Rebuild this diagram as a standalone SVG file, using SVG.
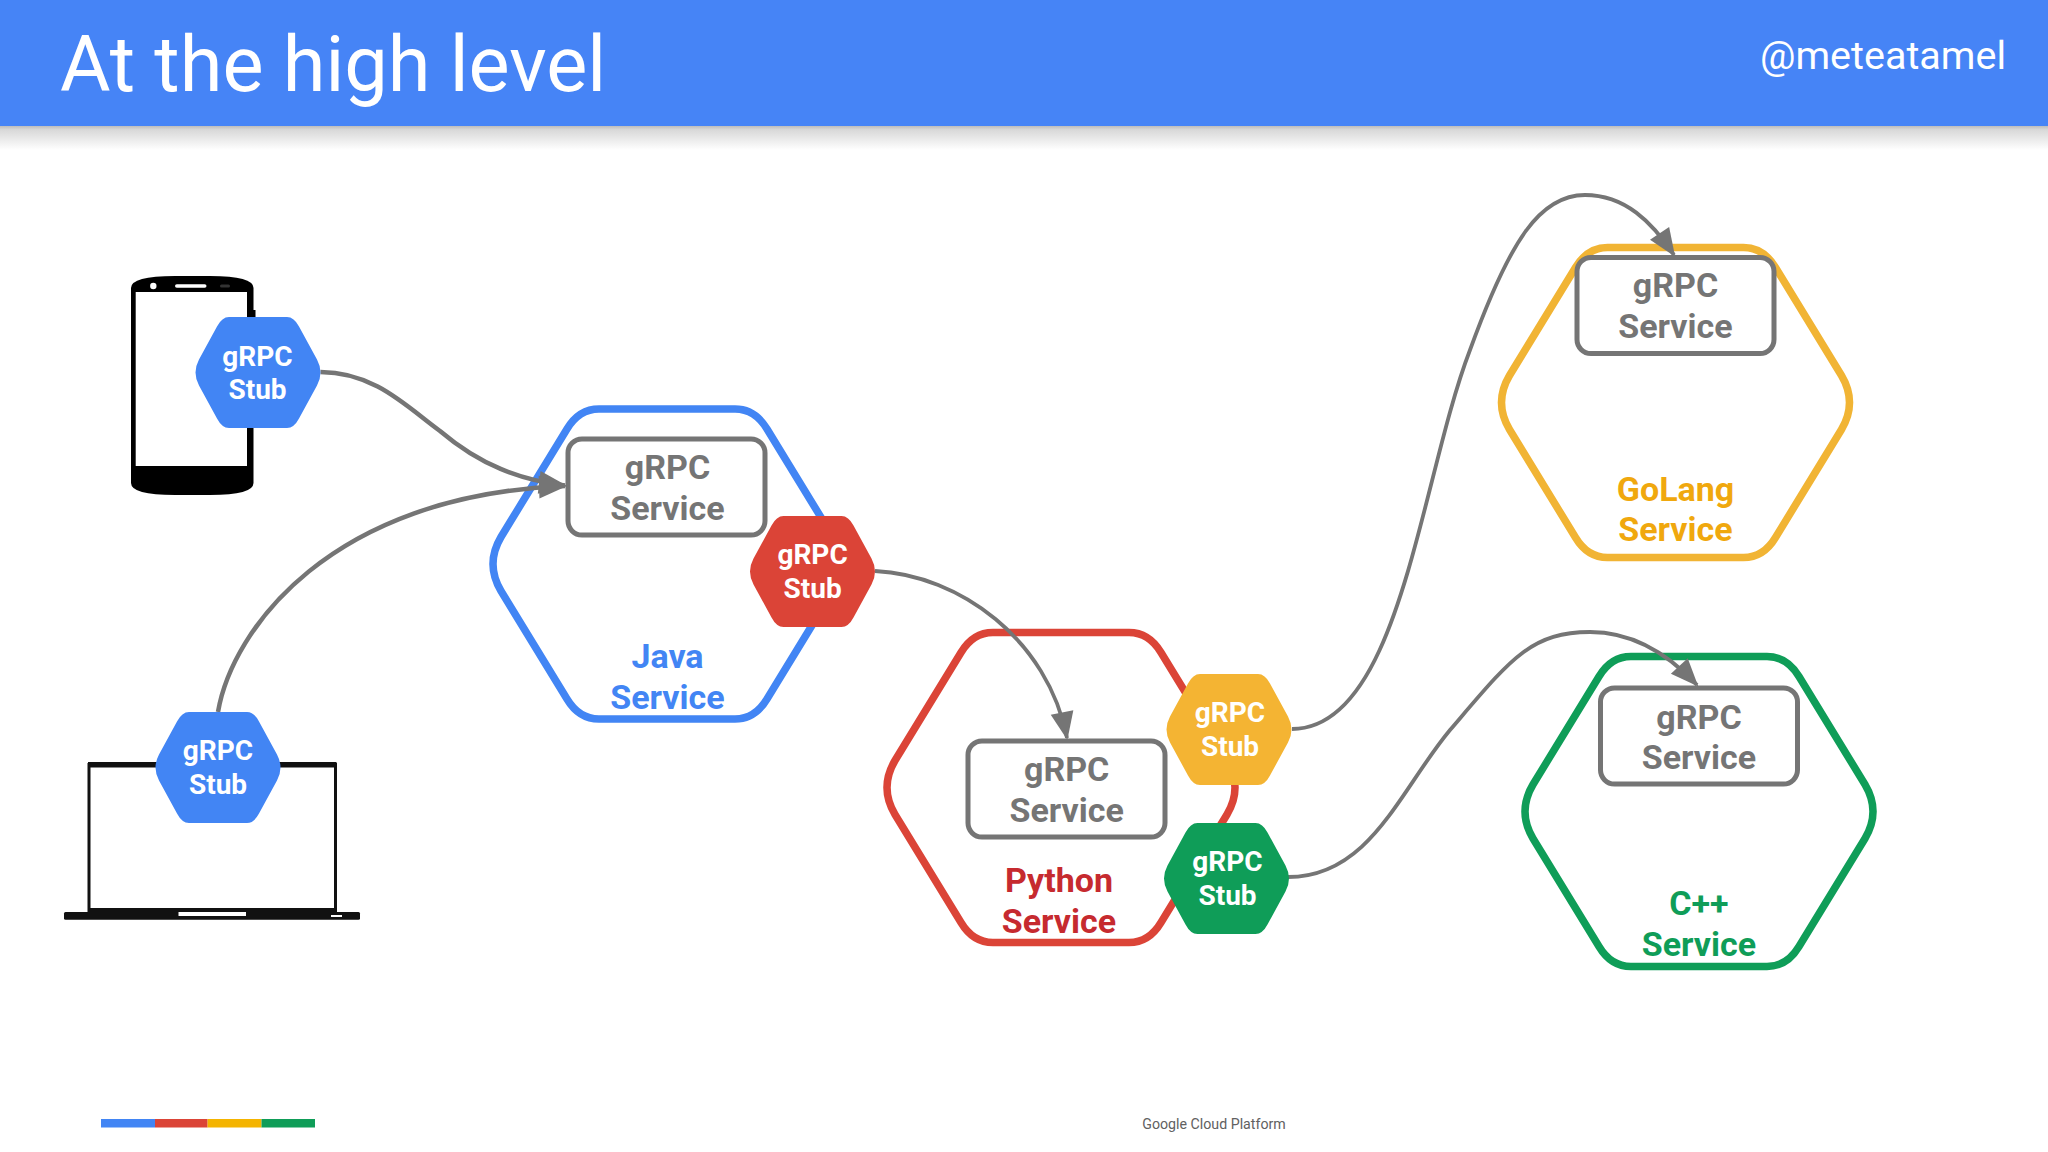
<svg xmlns="http://www.w3.org/2000/svg" width="2048" height="1152" viewBox="0 0 2048 1152">
<style>
text{font-family:Roboto,"Liberation Sans",sans-serif;text-anchor:middle}
.lbl{font-size:34px;font-weight:700}
.stub text{font-size:28px;font-weight:700;fill:#fff}
.gray{fill:#757575}
.box{fill:#fff;stroke:#757575;stroke-width:5}
.svc{fill:#fff;stroke-width:7.500}
.conn{fill:none;stroke:#757575;stroke-width:4.500}
.thin{stroke-width:3.800}
</style>
<defs>
<linearGradient id="shade" x1="0" y1="0" x2="0" y2="1"><stop offset="0" stop-color="#bdbdbd"/><stop offset="0.15" stop-color="#d8d8d8"/><stop offset="1" stop-color="#fff"/></linearGradient>
<path id="svcHex" d="M-68,-155H68Q88,-155 100,-135L166,-27Q182,0 166,27L100,135Q88,155 68,155H-68Q-88,155 -100,135L-166,27Q-182,0 -166,-27L-100,-135Q-88,-155 -68,-155Z"/>
<path id="stubHex" d="M-29,-55.5H29Q36,-55.5 41,-46L59,-13Q66,0 59,13L41,46Q36,55.5 29,55.5H-29Q-36,55.5 -41,46L-59,13Q-66,0 -59,-13L-41,-46Q-36,-55.5 -29,-55.5Z"/>
<marker id="arrow" markerUnits="userSpaceOnUse" markerWidth="34" markerHeight="26" refX="26" refY="11.500" orient="auto" overflow="visible"><path d="M0,0L28,11.500L0,23Z" fill="#757575"/></marker>
</defs>
<rect width="2048" height="1152" fill="#fff"/>
<g id="header">
<rect y="126" width="2048" height="24" fill="url(#shade)"/>
<rect width="2048" height="126" fill="#4684F6"/>
<text x="333" y="91" font-size="77.500" font-weight="400" fill="#fff">At the high level</text>
<text x="1883" y="69" font-size="39.500" font-weight="400" fill="#fff">@meteatamel</text>
</g>
<g id="phone">
<path d="M131,288Q131,276 175,276H210Q253.500,276 253.500,288V483Q253.500,495 210,495H175Q131,495 131,483Z" fill="#000"/>
<rect x="253" y="310" width="2.500" height="10" fill="#000"/>
<rect x="135.700" y="292" width="111.300" height="174" fill="#fff"/>
<circle cx="153.300" cy="286" r="3.200" fill="#fff"/>
<rect x="175" y="284.200" width="31.500" height="3.600" rx="1.800" fill="#fff"/>
<rect x="220" y="284.500" width="10" height="3" rx="1.500" fill="#333"/>
</g>
<g id="laptop">
<rect x="89" y="764.500" width="246.500" height="146" fill="#fff" stroke="#111" stroke-width="3"/>
<rect x="88" y="762" width="248.500" height="5.500" fill="#111"/>
<rect x="88" y="908" width="248.500" height="5" fill="#111"/>
<rect x="64" y="912" width="296" height="7.700" rx="1.500" fill="#111"/>
<rect x="178.500" y="912" width="67.500" height="4" fill="#fff"/>
<rect x="331" y="915" width="11" height="2" fill="#fff"/>
</g>
<g id="java-service">
<use href="#svcHex" transform="translate(667,564)" class="svc" stroke="#4285F4"/>
<rect x="568" y="439" width="197" height="96" rx="14" class="box"/>
<text x="667.500" y="478.500" class="lbl gray">gRPC</text><text x="667.500" y="519.500" class="lbl gray">Service</text>
<text x="667.500" y="668" class="lbl" fill="#4285F4">Java</text><text x="667.500" y="709" class="lbl" fill="#4285F4">Service</text>
</g>
<g id="python-service">
<use href="#svcHex" transform="translate(1061,787.500)" class="svc" stroke="#DB4437"/>
<rect x="968" y="741" width="197" height="96" rx="14" class="box"/>
<text x="1066.700" y="781" class="lbl gray">gRPC</text><text x="1066.700" y="821.500" class="lbl gray">Service</text>
<text x="1059" y="892" class="lbl" fill="#C62A2F">Python</text><text x="1059" y="932.500" class="lbl" fill="#C62A2F">Service</text>
</g>
<g id="golang-service">
<use href="#svcHex" transform="translate(1675.500,402.500)" class="svc" stroke="#F1B434"/>
<rect x="1577" y="257.500" width="197" height="96" rx="14" class="box"/>
<text x="1675.500" y="297" class="lbl gray">gRPC</text><text x="1675.500" y="338" class="lbl gray">Service</text>
<text x="1675.500" y="500.600" class="lbl" fill="#F0A80E">GoLang</text><text x="1675.500" y="541" class="lbl" fill="#F0A80E">Service</text>
</g>
<g id="cpp-service">
<use href="#svcHex" transform="translate(1699,811.500)" class="svc" stroke="#0F9D58"/>
<rect x="1600.500" y="688" width="197" height="96" rx="14" class="box"/>
<text x="1699" y="728.500" class="lbl gray">gRPC</text><text x="1699" y="769" class="lbl gray">Service</text>
<text x="1699" y="915" class="lbl" fill="#0F9D58">C++</text><text x="1699" y="956" class="lbl" fill="#0F9D58">Service</text>
</g>
<g id="connectors">
<path class="conn" marker-end="url(#arrow)" d="M320.500,372C375,372 408,408 440,431C480,465 520,480 565,485.500"/>
<path class="conn" marker-end="url(#arrow)" d="M218,712C232,630 330,495 565,486"/>
<path class="conn thin" marker-end="url(#arrow)" d="M875,571C960,575 1048,640 1067,738"/>
<path class="conn thin" marker-end="url(#arrow)" d="M1292,729C1400,729 1420,480 1470,350C1510,240 1540,195 1585,195C1625,195 1652,222 1674,255"/>
<path class="conn thin" marker-end="url(#arrow)" d="M1288,877C1370,877 1400,790 1450,730C1510,660 1530,632 1590,632C1620,632 1657,642 1697,685"/>
</g>
<g id="stub-phone" class="stub"><use href="#stubHex" transform="translate(258,372.500)" fill="#4285F4"/><text x="257.500" y="366">gRPC</text><text x="257.500" y="398.500">Stub</text></g>
<g id="stub-laptop" class="stub"><use href="#stubHex" transform="translate(218,767.500)" fill="#4285F4"/><text x="218" y="760.300">gRPC</text><text x="218" y="794">Stub</text></g>
<g id="stub-java" class="stub"><use href="#stubHex" transform="translate(812.500,571.500)" fill="#DB4437"/><text x="812.600" y="564">gRPC</text><text x="812.600" y="597.500">Stub</text></g>
<g id="stub-python-go" class="stub"><use href="#stubHex" transform="translate(1229,729.500)" fill="#F4B433"/><text x="1230" y="722">gRPC</text><text x="1230" y="755.500">Stub</text></g>
<g id="stub-python-cpp" class="stub"><use href="#stubHex" transform="translate(1226.500,878.500)" fill="#0F9D58"/><text x="1227.500" y="871">gRPC</text><text x="1227.500" y="904.500">Stub</text></g>
<g id="footer">
<rect x="101" y="1119" width="54" height="8.500" fill="#4285F4"/>
<rect x="155" y="1119" width="52.600" height="8.500" fill="#DB4437"/>
<rect x="207.600" y="1119" width="53.900" height="8.500" fill="#F4B400"/>
<rect x="261.500" y="1119" width="53.500" height="8.500" fill="#0F9D58"/>
<text x="1214" y="1128.500" font-size="14.200" fill="#616161">Google Cloud Platform</text>
</g>
</svg>
